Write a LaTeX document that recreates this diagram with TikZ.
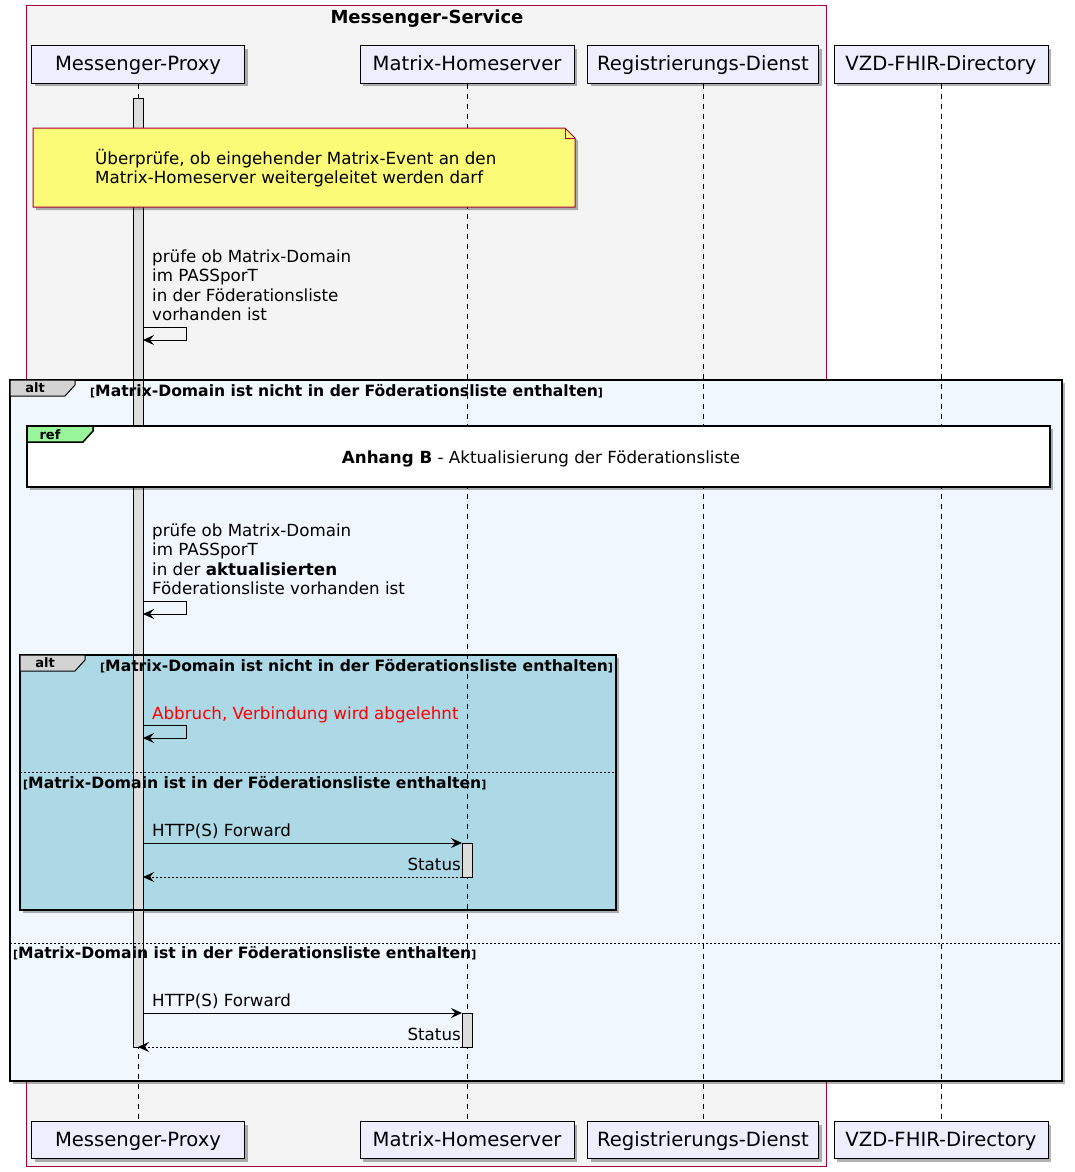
\documentclass[tikz,border=0pt]{standalone}
\usepackage{fontspec}
\setmainfont{DejaVu Sans}
\usetikzlibrary{arrows.meta,shadows}
\definecolor{grpfill}{HTML}{F4F4F4}
\definecolor{grpline}{HTML}{A80036}
\definecolor{partfill}{HTML}{EEEEFF}
\definecolor{notefill}{HTML}{FBFB77}
\definecolor{altfill}{HTML}{F0F7FE}
\definecolor{innerfill}{HTML}{ADD8E6}
\definecolor{tabfill}{HTML}{D3D3D3}
\definecolor{reffill}{HTML}{99F599}
\definecolor{actfill}{HTML}{DDDDDD}
\definecolor{abortred}{HTML}{FF0000}
\newcommand\brk[1]{{\fontsize{11}{13}\selectfont #1}}
\begin{document}
\begin{tikzpicture}[x=1pt,y=-1pt,
  pshadow/.style={drop shadow={shadow xshift=3pt,shadow yshift=-3pt,opacity=0.3,fill=black}},
  partbox/.style={draw=black,fill=partfill,line width=1pt,minimum height=37pt,inner sep=0pt,text height=15.5pt,text depth=3.5pt,font=\fontsize{19.6}{22}\selectfont,pshadow},
  life/.style={draw=black,line width=0.7pt,dash pattern=on 5pt off 5pt},
  act/.style={draw=black,fill=actfill,line width=0.8pt},
  msg/.style={draw=black,line width=1pt,-{Stealth[length=11pt,width=10pt,inset=4pt]}},
  ret/.style={msg,dash pattern=on 2pt off 2pt},
  lbl/.style={inner sep=0pt,anchor=base west,font=\fontsize{16.7}{19.5}\selectfont},
  guard/.style={inner sep=0pt,anchor=base west,font=\fontsize{15.6}{19}\selectfont\bfseries},
  tablbl/.style={inner sep=0pt,font=\fontsize{13}{15}\selectfont\bfseries},
  altframe/.style={draw=black,line width=1.5pt},
  altsep/.style={draw=black,line width=0.7pt,dash pattern=on 2pt off 2pt}
]
\useasboundingbox (0,0) rectangle (1074,1172);
% group box
\draw[grpline,fill=grpfill,line width=1pt] (26,6) rectangle (826,1166);
\node[inner sep=0pt,anchor=base,font=\fontsize{18}{21}\selectfont\bfseries] (title) at (427,23.5) {Messenger-Service};
% alt fills
\path[fill=altfill,pshadow] (10,380) rectangle (1062,1081);
\path[fill=innerfill,pshadow] (20,655) rectangle (616,910);
% participants
\node[partbox,minimum width=213pt] (p1) at (138,64.5) {Messenger-Proxy};
\node[partbox,minimum width=214pt] (p2) at (467,64.5) {Matrix-Homeserver};
\node[partbox,minimum width=231pt] (p3) at (703,64.5) {Registrierungs-Dienst};
\node[partbox,minimum width=214pt] (p4) at (941,64.5) {VZD-FHIR-Directory};
\node[partbox,minimum width=213pt] (q1) at (138,1140) {Messenger-Proxy};
\node[partbox,minimum width=214pt] (q2) at (467,1140) {Matrix-Homeserver};
\node[partbox,minimum width=231pt] (q3) at (703,1140) {Registrierungs-Dienst};
\node[partbox,minimum width=214pt] (q4) at (941,1140) {VZD-FHIR-Directory};
\draw[life] (p1.south) -- (q1.north);
\draw[life] (p2.south) -- (q2.north);
\draw[life] (p3.south) -- (q3.north);
\draw[life] (p4.south) -- (q4.north);
% activations
\draw[act] (133,98) rectangle (143,1047);
\draw[act] (462,843) rectangle (472,877);
\draw[act] (462,1013) rectangle (472,1047);
% ref box
\path[pshadow,fill=white,draw=black,line width=1.5pt] (27,426) rectangle (1050,487);
\draw[fill=reffill,line width=1.5pt] (27,426) -- (93,426) -- (93,431) -- (83,442) -- (27,442) -- cycle;
\node[tablbl] (reftab) at (50,434.5) {ref};
\node[inner sep=0pt,anchor=base,font=\fontsize{16.7}{19.5}\selectfont] (reftext) at (541,463) {\textbf{Anhang B} - Aktualisierung der Föderationsliste};
% note
\path[pshadow,fill=notefill,draw=grpline,line width=1pt] (33,128) -- (565,128) -- (575,138) -- (575,207) -- (33,207) -- cycle;
\draw[grpline,line width=1pt] (565,128) -- (565,138) -- (575,138);
\node[lbl] (n1) at (95,164) {Überprüfe, ob eingehender Matrix-Event an den};
\node[lbl] (n2) at (95,183.5) {Matrix-Homeserver weitergeleitet werden darf};
% self message 1
\coordinate (s1a) at (143,327);
\coordinate (s1b) at (186,327);
\coordinate (s1c) at (186,340);
\coordinate (s1d) at (143,340);
\draw[msg] (s1a) -- (s1b) -- (s1c) -- (s1d);
\node[lbl] (m1a) at (152,262) {prüfe ob Matrix-Domain};
\node[lbl] (m1b) at (152,281.5) {im PASSporT};
\node[lbl] (m1c) at (152,301) {in der Föderationsliste};
\node[lbl] (m1d) at (152,320.5) {vorhanden ist};
% self message 2
\coordinate (s2a) at (143,601);
\coordinate (s2b) at (186,601);
\coordinate (s2c) at (186,614);
\coordinate (s2d) at (143,614);
\draw[msg] (s2a) -- (s2b) -- (s2c) -- (s2d);
\node[lbl] (m2a) at (152,536) {prüfe ob Matrix-Domain};
\node[lbl] (m2b) at (152,555.5) {im PASSporT};
\node[lbl] (m2c) at (152,575) {in der \textbf{aktualisierten}};
\node[lbl] (m2d) at (152,594.5) {Föderationsliste vorhanden ist};
% abort
\coordinate (s3a) at (143,725);
\coordinate (s3b) at (186,725);
\coordinate (s3c) at (186,738);
\coordinate (s3d) at (143,738);
\draw[msg] (s3a) -- (s3b) -- (s3c) -- (s3d);
\node[lbl,text=abortred] (m3) at (152,719) {Abbruch, Verbindung wird abgelehnt};
% inner forward
\coordinate (f1a) at (143,843);
\coordinate (f1b) at (462,843);
\coordinate (f1c) at (462,877);
\coordinate (f1d) at (143,877);
\draw[msg] (f1a) -- (f1b);
\draw[ret] (f1c) -- (f1d);
\node[lbl] (m4) at (152,836.5) {HTTP(S) Forward};
\node[lbl,anchor=base east] (m5) at (461,870.5) {Status};
% outer forward
\coordinate (f2a) at (143,1013);
\coordinate (f2b) at (462,1013);
\coordinate (f2c) at (462,1047);
\coordinate (f2d) at (138,1047);
\draw[msg] (f2a) -- (f2b);
\draw[ret] (f2c) -- (f2d);
\node[lbl] (m6) at (152,1006.5) {HTTP(S) Forward};
\node[lbl,anchor=base east] (m7) at (461,1040.5) {Status};
% inner alt frame
\draw[altframe] (20,655) rectangle (616,910);
\draw[fill=tabfill,line width=1pt] (20,655) -- (85,655) -- (85,660) -- (75,671) -- (20,671) -- cycle;
\node[tablbl] (alt2) at (45,663) {alt};
\node[guard] (g2) at (100,671) {\brk{[}Matrix-Domain ist nicht in der Föderationsliste enthalten\brk{]}};
\draw[altsep] (20,772) -- (616,772);
\node[guard] (g3) at (23,788) {\brk{[}Matrix-Domain ist in der Föderationsliste enthalten\brk{]}};
% outer alt frame
\draw[altframe] (10,380) rectangle (1062,1081);
\draw[fill=tabfill,line width=1pt] (10,380) -- (75,380) -- (75,385) -- (65,396) -- (10,396) -- cycle;
\node[tablbl] (alt1) at (35,388) {alt};
\node[guard] (g1) at (90,396.5) {\brk{[}Matrix-Domain ist nicht in der Föderationsliste enthalten\brk{]}};
\draw[altsep] (10,943) -- (1062,943);
\node[guard] (g4) at (13,958) {\brk{[}Matrix-Domain ist in der Föderationsliste enthalten\brk{]}};
\end{tikzpicture}
\end{document}
